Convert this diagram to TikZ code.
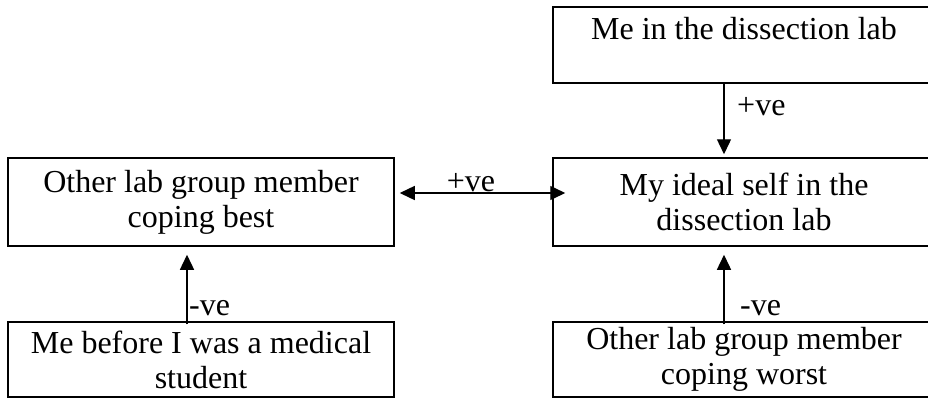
\documentclass[tikz,border=0pt]{standalone}
\usepackage{fontspec}
\setmainfont{Liberation Serif}
\usetikzlibrary{arrows.meta,calc}
\begin{document}
\begin{tikzpicture}[x=1pt,y=-1pt,
  box/.style={draw,line width=1.5pt,align=center,inner sep=0pt,
    font=\fontsize{32}{35}\selectfont},
  link/.style={line width=1.4pt,-{Triangle[length=15pt,width=14pt]}},
  both/.style={line width=1.4pt,{Triangle[length=15pt,width=14pt]}-{Triangle[length=15pt,width=14pt]}},
  tag/.style={inner sep=0pt,font=\fontsize{32}{35}\selectfont}]
\clip (0,0) rectangle (928,399);
% boxes
\node[box,minimum width=382pt,minimum height=76pt] (me) at (744,45)
  {Me in the dissection lab\\[-13pt]\strut};
\node[box,minimum width=382pt,minimum height=88pt] (ideal) at (744,202)
  {My ideal self in the\\dissection lab};
\node[box,minimum width=386pt,minimum height=88pt] (best) at (201,202)
  {Other lab group member\\coping best};
\node[box,minimum width=386pt,minimum height=75pt] (before) at (201,359.5)
  {Me before I was a medical\\student};
\node[box,minimum width=382pt,minimum height=75pt] (worst) at (744,359.5)
  {Other lab group member\\coping worst};
% columns of the vertical links
\coordinate (rx) at (724,0);
\coordinate (lx) at (187,0);
% links
\draw[link] (me.south -| rx) -- ($(ideal.north -| rx)+(0,-3)$);
\draw[link] ($(worst.north -| rx)+(0,3)$) -- ($(ideal.south -| rx)+(0,8)$);
\draw[link] ($(before.north -| lx)+(0,3)$) -- ($(best.south -| lx)+(0,8)$);
\draw[both] ($(best.east)+(5,-9)$) -- ($(ideal.west)+(13,-9)$);
% labels
\node[tag,anchor=west] (p1) at (737,107) {+ve};
\node[tag] (p2) at (471,183) {+ve};
\node[tag,anchor=west] (n1) at (189,308) {-ve};
\node[tag,anchor=west] (n2) at (740,308) {-ve};
\end{tikzpicture}
\end{document}
